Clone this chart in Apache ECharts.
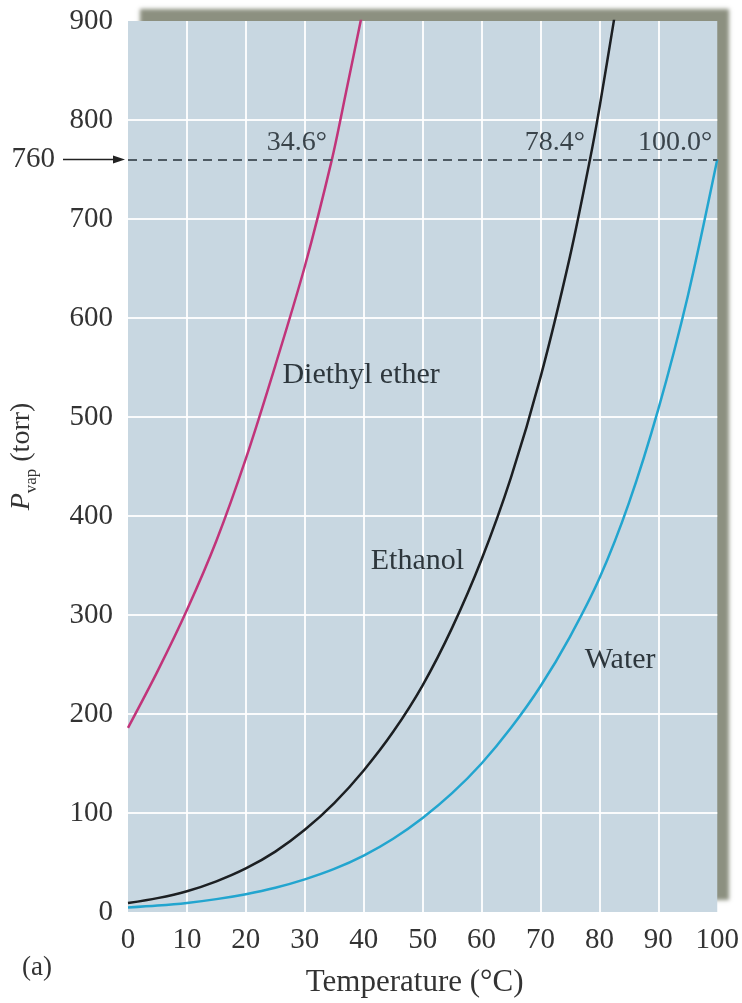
<!DOCTYPE html>
<html>
<head>
<meta charset="utf-8">
<script src="https://cdn.jsdelivr.net/npm/echarts@6/dist/echarts.min.js"></script>
<style>
  html, body { margin: 0; padding: 0; background: #ffffff; }
  #chart { width: 742px; height: 1003px; }
</style>
</head>
<body>
<div id="chart"></div>
<script>
// Vapour pressure (torr) against temperature (°C)
const xTicks = [0, 10, 20, 30, 40, 50, 60, 70, 80, 90, 100];
const yTicks = [0, 100, 200, 300, 400, 500, 600, 700, 800, 900];

const etherT = [0, 5, 10, 15, 20, 25, 30, 34.6, 37, 40];
const etherP = [186, 243, 305, 375, 458, 552, 652, 760, 828, 915];

const ethanolT = [0, 5, 10, 15, 20, 25, 30, 35, 40, 45, 50, 55, 60, 65, 70, 75, 78.4, 80, 83];
const ethanolP = [9, 14, 21, 31, 44, 61, 83, 110, 143, 182, 229, 287, 356, 439, 540, 662, 760, 812, 920];

const waterT = [0, 5, 10, 15, 20, 25, 30, 35, 40, 45, 50, 55, 60, 65, 70, 75, 80, 85, 90, 95, 100];
const waterP = [4.5, 6.5, 9.2, 13, 18, 24.5, 33, 43.5, 57, 74, 95, 120, 150, 186, 228, 278, 337, 413, 508, 622, 760];

const normalPressure = 760;
const boilingT = [34.6, 78.4, 100.0];
const boilingLabels = ['34.6°', '78.4°', '100.0°'];

const seriesNames = ['Diethyl ether', 'Ethanol', 'Water'];
const seriesColors = ['#c1347a', '#1c1f22', '#22a5cf'];
// label anchors (temperature, pressure) for each curve name
const nameAnchors = [[26.2, 542], [41.2, 354], [77.5, 254]];

const FONT = '"Liberation Serif", "Times New Roman", "DejaVu Serif", serif';
const TEXT = '#333333';

const zip = (xs, ys) => xs.map((x, i) => [x, ys[i]]);

const chart = echarts.init(document.getElementById('chart'), null, { renderer: 'canvas' });

const lineSeries = (name, data, color) => ({
  name: name,
  type: 'line',
  data: data,
  smooth: 0.3,
  showSymbol: false,
  clip: true,
  lineStyle: { color: color, width: 2.5 },
  z: 3
});

const series = [
  lineSeries(seriesNames[0], zip(etherT, etherP), seriesColors[0]),
  lineSeries(seriesNames[1], zip(ethanolT, ethanolP), seriesColors[1]),
  lineSeries(seriesNames[2], zip(waterT, waterP), seriesColors[2])
];

// dashed line at normal atmospheric pressure
series[2].markLine = {
  silent: true,
  symbol: ['none', 'none'],
  label: { show: false },
  lineStyle: { type: [9, 6], color: '#4e5a63', width: 2 },
  data: [[{ coord: [xTicks[0], normalPressure] }, { coord: [xTicks[xTicks.length - 1], normalPressure] }]]
};

chart.setOption({
  animation: false,
  grid: {
    left: 128, right: 24, top: 21, bottom: 91,
    show: true,
    backgroundColor: '#c8d7e1',
    borderWidth: 0,
    shadowColor: 'rgba(120,124,106,0.85)',
    shadowBlur: 4,
    shadowOffsetX: 12,
    shadowOffsetY: -12
  },
  xAxis: {
    type: 'value',
    min: xTicks[0], max: xTicks[xTicks.length - 1], interval: 10,
    axisLine: { show: false },
    axisTick: { show: false },
    splitLine: { show: true, showMinLine: false, showMaxLine: false,
      lineStyle: { color: 'rgba(255,255,255,0.9)', width: 2 } },
    axisLabel: { fontFamily: FONT, fontSize: 29, color: TEXT, margin: 14 },
    name: 'Temperature (°C)',
    nameLocation: 'middle',
    nameGap: 55,
    nameTextStyle: { fontFamily: FONT, fontSize: 31, color: TEXT, verticalAlign: 'top', padding: [0, 16, 0, 0] }
  },
  yAxis: {
    type: 'value',
    min: yTicks[0], max: yTicks[yTicks.length - 1], interval: 100,
    axisLine: { show: false },
    axisTick: { show: false },
    splitLine: { show: true, showMinLine: false, showMaxLine: false,
      lineStyle: { color: 'rgba(255,255,255,0.9)', width: 2 } },
    axisLabel: { fontFamily: FONT, fontSize: 29, color: TEXT, margin: 15 },
    name: '{p|P}{sub|vap}{t| (torr)}',
    nameLocation: 'middle',
    nameRotate: 90,
    nameGap: 88,
    nameTextStyle: {
      fontFamily: FONT, fontSize: 27, color: TEXT, padding: [0, 0, 0, 20],
      rich: {
        p: { fontFamily: FONT, fontSize: 28, fontStyle: 'italic', color: TEXT, lineHeight: 36, verticalAlign: 'middle' },
        sub: { fontFamily: FONT, fontSize: 17, color: TEXT, verticalAlign: 'bottom' },
        t: { fontFamily: FONT, fontSize: 28, color: TEXT, lineHeight: 36, verticalAlign: 'middle' }
      }
    }
  },
  series: series
});

// annotations placed from data coordinates
const px = (t, p) => chart.convertToPixel({ gridIndex: 0 }, [t, p]);
const graphics = [];

boilingT.forEach((t, i) => {
  const pt = px(t, normalPressure);
  graphics.push({
    type: 'text', z: 10,
    style: { text: boilingLabels[i], x: pt[0] - 5, y: pt[1] - 3,
      align: 'right', verticalAlign: 'bottom',
      font: '28px ' + FONT, fill: '#3a444b' }
  });
});

nameAnchors.forEach((a, i) => {
  const pt = px(a[0], a[1]);
  graphics.push({
    type: 'text', z: 10,
    style: { text: seriesNames[i], x: pt[0], y: pt[1],
      align: 'left', verticalAlign: 'middle',
      font: '30px ' + FONT, fill: '#2d363c' }
  });
});

// "760" marker with arrow pointing at the dashed line
const p760 = px(0, normalPressure);
graphics.push({
  type: 'text', z: 10,
  style: { text: String(normalPressure), x: 55, y: p760[1],
    align: 'right', verticalAlign: 'middle', font: '29px ' + FONT, fill: TEXT }
});
graphics.push({
  type: 'line', z: 10,
  shape: { x1: 63, y1: p760[1], x2: p760[0] - 12, y2: p760[1] },
  style: { stroke: '#222', lineWidth: 1.5 }
});
graphics.push({
  type: 'polygon', z: 10,
  shape: { points: [[p760[0] - 3, p760[1]], [p760[0] - 15, p760[1] - 4], [p760[0] - 15, p760[1] + 4]] },
  style: { fill: '#222' }
});

// panel tag
graphics.push({
  type: 'text', z: 10,
  style: { text: '(a)', x: 22, y: 968, align: 'left', verticalAlign: 'middle',
    font: '27px ' + FONT, fill: TEXT }
});

chart.setOption({ graphic: graphics });
</script>
</body>
</html>
